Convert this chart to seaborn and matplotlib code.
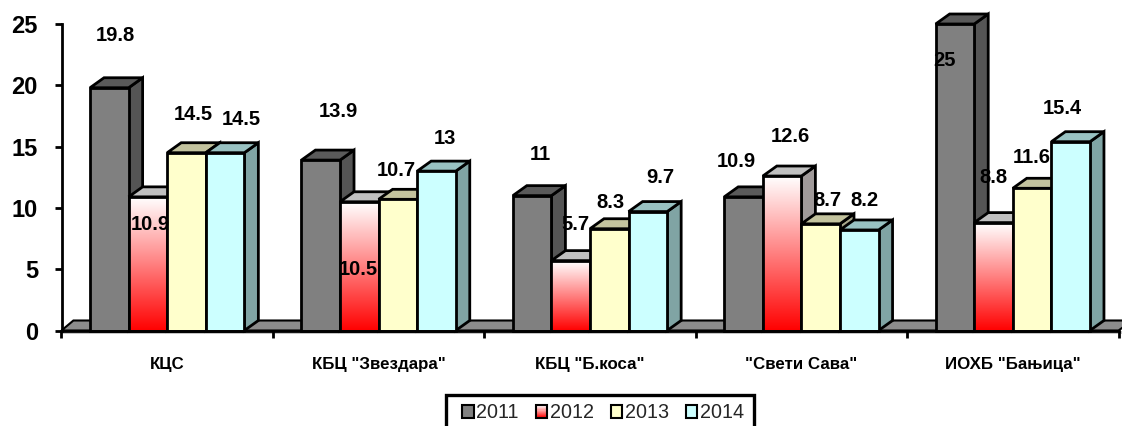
import numpy as np
import pandas as pd
import matplotlib
matplotlib.use("Agg")
import matplotlib.pyplot as plt
from matplotlib.patches import Polygon, Rectangle, Patch
from matplotlib.legend_handler import HandlerBase
from matplotlib.ticker import FixedLocator, NullFormatter, FixedFormatter
import seaborn as sns

categories = ['КЦС', 'КБЦ "Звездара"', 'КБЦ "Б.коса"', '"Свети Сава"', 'ИОХБ "Бањица"']
years = ['2011', '2012', '2013', '2014']
v2011 = [19.8, 13.9, 11, 10.9, 25]
v2012 = [10.9, 10.5, 5.7, 12.6, 8.8]
v2013 = [14.5, 10.7, 8.3, 8.7, 11.6]
v2014 = [14.5, 13, 9.7, 8.2, 15.4]
yticks = [0, 5, 10, 15, 20, 25]

# label offset from bar top centre, in pixels (right, up), per series then category
off2011 = [(6, 52), (18, 49), (8, 41), (-7, 35), (-10, -36)]
off2012 = [(2, -28), (-1, -68), (5, 36), (8, 40), (0, 45)]
off2013 = [(6.5, 38), (-2, 29), (1, 26), (7, 23), (0, 31)]
off2014 = [(16, 33), (8.5, 33), (12, 34), (5, 29), (-8, 33)]

front = {'2011': '#808080', '2012': '#ffffff', '2013': '#ffffcc', '2014': '#ccffff'}
top_c = {'2011': '#5a5a5a', '2012': '#c0c0c0', '2013': '#c3c39e', '2014': '#99c2c2'}
side_c = {'2011': '#555555', '2012': '#a09a9a', '2013': '#a8a88c', '2014': '#80a4a4'}

df = pd.DataFrame({
    'cat': np.tile(categories, 4),
    'year': np.repeat(years, 5),
    'val': v2011 + v2012 + v2013 + v2014,
})

sns.set_theme(style='white')
plt.rcParams['font.family'] = ['Liberation Sans', 'DejaVu Sans']

W, H = 1122, 426
fig = plt.figure(figsize=(W / 100, H / 100), dpi=100)
L, R, T, B = 61.5, 1118.5, 24, 330.5
ax = fig.add_axes([L / W, 1 - B / H, (R - L) / W, (B - T) / H])

sns.barplot(data=df, x='cat', y='val', hue='year', hue_order=years, order=categories,
            palette=front, width=0.73, gap=0, dodge=True, saturation=1, legend=False,
            edgecolor='black', linewidth=2, ax=ax)
ax.set_xlim(-0.5, 4.5)
ax.set_ylim(0, 25)

px_x = (R - L) / 5
px_y = (B - T) / 25
DX, DY = 14 / px_x, 10 / px_y

# floor
x0, x1 = -0.5, 4.5
ax.add_patch(Polygon([(x0, 0), (x0 + DX * 0.85, DY), (x1 + DX, DY), (x1, 0)], closed=True,
                     fc='#8c8c8c', ec='black', lw=1.5, clip_on=False, zorder=1))
ax.add_patch(Rectangle((x0, -3.5 / px_y), x1 - x0 + DX, 3.5 / px_y, fc='#c4c4c4', ec='none',
                       clip_on=False, zorder=0.5))

offs = [off2011, off2012, off2013, off2014]
grad = np.ones((256, 1, 3))
grad[:, 0, 1] = grad[:, 0, 2] = np.linspace(1, 0, 256)

for s, (yr, cont) in enumerate(zip(years, ax.containers)):
    for c, bar in enumerate(cont):
        x, w, h = bar.get_x(), bar.get_width(), bar.get_height()
        z = 3 + c * 10 + s * 2
        bar.set_zorder(z + 1)
        bar.set_clip_on(False)
        bar.set_joinstyle('miter')
        ax.add_patch(Polygon([(x + w, 0), (x + w + DX, DY), (x + w + DX, h + DY), (x + w, h)],
                             closed=True, fc=side_c[yr], ec='black', lw=2, clip_on=False, zorder=z))
        ax.add_patch(Polygon([(x, h), (x + DX, h + DY), (x + w + DX, h + DY), (x + w, h)],
                             closed=True, fc=top_c[yr], ec='black', lw=2, clip_on=False, zorder=z))
        if yr == '2012':
            bar.set_facecolor('none')
            ax.imshow(grad, extent=(x, x + w, 0, h), aspect='auto', zorder=z + 0.5,
                      interpolation='bilinear', clip_on=False)
        dx, dy = offs[s][c]
        ax.annotate(f'{h:g}', xy=(x + w / 2, h), xytext=(dx * 0.72, dy * 0.72),
                    textcoords='offset points', ha='center', va='center',
                    fontsize=14.5, fontweight='bold', color='black', zorder=200,
                    annotation_clip=False)

ax.set_xlim(-0.5, 4.5)
ax.set_ylim(0, 25)

ax.set_xlabel('')
ax.set_ylabel('')
ax.set_yticks(yticks)
ax.set_yticklabels([str(t) for t in yticks], fontsize=17, fontweight='bold', color='black')
ax.tick_params(axis='y', left=True, direction='out', length=5, width=2, color='black', pad=12)
ax.xaxis.set_major_locator(FixedLocator(np.arange(-0.5, 5, 1)))
ax.xaxis.set_major_formatter(NullFormatter())
ax.xaxis.set_minor_locator(FixedLocator(np.arange(5)))
ax.xaxis.set_minor_formatter(FixedFormatter(categories))
ax.tick_params(axis='x', which='major', bottom=True, direction='out', length=5, width=2, color='black')
ax.tick_params(axis='x', which='minor', bottom=False, length=0, pad=19, labelsize=12.2, labelcolor='black')
for t in ax.get_xticklabels(minor=True):
    t.set_fontweight('bold')
sns.despine(ax=ax, top=True, right=True)
for sp in ('left', 'bottom'):
    ax.spines[sp].set_linewidth(2)
    ax.spines[sp].set_color('black')
    ax.spines[sp].set_zorder(150)
ax.patch.set_alpha(0)


class GradHandler(HandlerBase):
    def create_artists(self, legend, orig, xd, yd, width, height, fontsize, trans):
        arts = []
        n = 12
        for i in range(n):
            g = i / (n - 1)
            arts.append(Rectangle((-xd, -yd + height * i / n), width, height / n + 0.2,
                                  fc=(1, g, g), ec='none', transform=trans))
        arts.append(Rectangle((-xd, -yd), width, height, fc='none', ec='black', lw=1.5, transform=trans))
        return arts


handles = [Patch(fc=front[y], ec='black', lw=1.5, label=y) for y in years]
fig.add_artist(Rectangle((446 / W, 1 - 450 / H), 308 / W, 55 / H, transform=fig.transFigure,
                         fc='white', ec='black', lw=2.4))
leg = fig.legend(handles=handles, labels=years, ncol=4, loc='center',
                 bbox_to_anchor=(603 / W, 1 - 413 / H), bbox_transform=fig.transFigure,
                 handler_map={handles[1]: GradHandler()},
                 fontsize=14.2, frameon=False,
                 handlelength=0.6, handleheight=0.6, handletextpad=0.12, columnspacing=0.85,
                 borderpad=0, borderaxespad=0)

fig.savefig('out.png', dpi=100, facecolor='white')
